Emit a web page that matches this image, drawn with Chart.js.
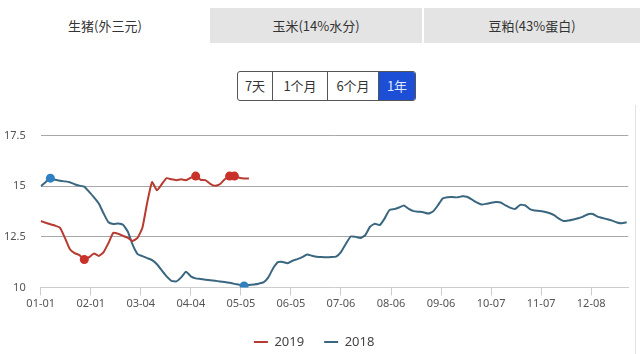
<!DOCTYPE html>
<html>
<head>
<meta charset="utf-8">
<script src="https://cdn.jsdelivr.net/npm/chart.js@4/dist/chart.umd.min.js"></script>
<style>
html,body{margin:0;padding:0;width:640px;height:354px;overflow:hidden;background:#fff;font-family:"Noto Sans CJK SC","Noto Sans",sans-serif;}
.tab{position:absolute;top:8px;height:35px;line-height:35px;text-align:center;font-size:13px;color:#333;}
.btns{position:absolute;left:237px;top:71px;width:179px;height:30px;box-sizing:border-box;display:flex;border:1px solid #555;border-radius:3px;overflow:hidden;}
.btn{height:28px;line-height:28px;text-align:center;font-size:13px;color:#333;box-sizing:border-box;border-right:1px solid #555;}
.btn.on{background:#1d4fd6;color:#dfe8ff;border-right:none;}
#wrap{position:absolute;left:0;top:114px;width:640px;height:246px;}
.edge{position:absolute;left:635px;top:105px;width:1px;height:249px;background:#e2e2e2;}
</style>
</head>
<body>
<div class="tab" style="left:0;width:210px;background:#fff;">生猪(外三元)</div>
<div class="tab" style="left:210px;width:212px;background:#e4e4e4;">玉米(14%水分)</div>
<div class="tab" style="left:424px;width:216px;background:#e4e4e4;">豆粕(43%蛋白)</div>
<div class="btns">
  <div class="btn" style="width:35px;">7天</div>
  <div class="btn" style="width:55px;">1个月</div>
  <div class="btn" style="width:51px;">6个月</div>
  <div class="btn on" style="flex:1;">1年</div>
</div>
<div class="edge"></div>
<div id="wrap"><canvas id="c" width="640" height="246"></canvas></div>
<script>
// x position of each value = day of year (index * STEP)
const STEP = 3;
const TICK_DAYS = [0, 31, 62, 93, 124, 155, 186, 217, 248, 279, 310, 341];
const TICK_LABELS = ['01-01','02-01','03-04','04-04','05-05','06-05','07-06','08-06','09-06','10-07','11-07','12-08'];
const Y_TICKS = [10, 12.5, 15, 17.5];

const price2019 = [
  13.28, 13.2, 13.12, 13.05, 12.95, 12.45, 11.9, 11.7, 11.6, 11.38,
  11.5, 11.68, 11.56, 11.75, 12.2, 12.7, 12.65, 12.55, 12.45, 12.3,
  12.45, 12.95, 14.2, 15.2, 14.8, 15.1, 15.4, 15.34, 15.3, 15.34,
  15.3, 15.42, 15.5, 15.32, 15.3, 15.12, 15.02, 15.1, 15.35, 15.5,
  15.5, 15.42, 15.38, 15.38
];

const price2018 = [
  15.0, 15.2, 15.4, 15.32, 15.27, 15.24, 15.2, 15.1, 15.03, 14.98,
  14.72, 14.45, 14.15, 13.65, 13.22, 13.14, 13.16, 13.1, 12.75, 12.1,
  11.65, 11.55, 11.45, 11.35, 11.15, 10.85, 10.55, 10.33, 10.3, 10.5,
  10.78, 10.55, 10.45, 10.42, 10.38, 10.36, 10.33, 10.3, 10.27, 10.23,
  10.18, 10.14, 10.08, 10.12, 10.15, 10.19, 10.25, 10.5, 10.95, 11.25,
  11.26, 11.2, 11.32, 11.4, 11.5, 11.63, 11.57, 11.52, 11.5, 11.49,
  11.5, 11.53, 11.75, 12.15, 12.52, 12.5, 12.44, 12.58, 13.0, 13.15,
  13.08, 13.4, 13.82, 13.87, 13.95, 14.05, 13.88, 13.77, 13.74, 13.72,
  13.65, 13.75, 14.05, 14.4, 14.46, 14.47, 14.45, 14.5, 14.48, 14.35,
  14.2, 14.1, 14.13, 14.18, 14.22, 14.2, 14.05, 13.93, 13.88, 14.08,
  14.06, 13.87, 13.8, 13.78, 13.74, 13.68, 13.57, 13.4, 13.28, 13.31,
  13.36, 13.42, 13.5, 13.62, 13.63, 13.5, 13.43, 13.37, 13.3, 13.21,
  13.17, 13.22
];

function toPoints(arr){ return arr.map((v, i) => ({x: i * STEP, y: v})); }
function extremeRadius(arr){
  const mx = Math.max(...arr), mn = Math.min(...arr);
  return ctx => (ctx.raw && (ctx.raw.y === mx || ctx.raw.y === mn)) ? 4.5 : 0;
}

Chart.defaults.font.family = '"Noto Sans", "Open Sans", sans-serif';
Chart.defaults.color = '#555';

new Chart(document.getElementById('c'), {
  type: 'line',
  data: {
    datasets: [
      {
        label: '2019',
        data: toPoints(price2019),
        borderColor: '#b73b30',
        backgroundColor: '#c8322a',
        pointBackgroundColor: '#c8322a',
        pointBorderWidth: 0,
        pointRadius: extremeRadius(price2019),
        borderWidth: 2,
        tension: 0.15,
        fill: false
      },
      {
        label: '2018',
        data: toPoints(price2018),
        borderColor: '#3a6680',
        backgroundColor: '#2f7fc1',
        pointBackgroundColor: '#2f7fc1',
        pointBorderWidth: 0,
        pointRadius: extremeRadius(price2018),
        borderWidth: 2,
        tension: 0.15,
        fill: false
      }
    ]
  },
  options: {
    responsive: false,
    animation: false,
    devicePixelRatio: 1,
    layout: { padding: { top: 9, right: 11.7, left: 0, bottom: 1.5 } },
    plugins: {
      tooltip: { enabled: false },
      legend: {
        position: 'bottom',
        labels: {
          boxWidth: 14,
          boxHeight: 2,
          padding: 20,
          color: '#444',
          font: { size: 13 },
          generateLabels: chart => chart.data.datasets.map((ds, i) => ({
            text: ds.label,
            fillStyle: ds.borderColor,
            strokeStyle: ds.borderColor,
            lineWidth: 0,
            datasetIndex: i,
            fontColor: '#444'
          }))
        }
      }
    },
    scales: {
      x: {
        type: 'linear',
        min: 0,
        max: 364,
        afterBuildTicks: axis => { axis.ticks = TICK_DAYS.map(v => ({value: v})); },
        afterFit: s => { s.height = 28; },
        ticks: {
          autoSkip: false,
          maxRotation: 0,
          padding: 2,
          color: '#555',
          font: { size: 11 },
          callback: v => TICK_LABELS[TICK_DAYS.indexOf(v)]
        },
        grid: { drawOnChartArea: false, drawTicks: true, tickLength: 8, color: '#cccccc' },
        border: { color: '#cccccc', width: 1 }
      },
      y: {
        min: 10,
        max: 17.5,
        afterBuildTicks: axis => { axis.ticks = Y_TICKS.map(v => ({value: v})); },
        afterFit: s => { s.width = 40.7; },
        ticks: {
          padding: 15,
          color: '#555',
          font: { size: 11 },
          callback: v => String(v)
        },
        grid: {
          drawTicks: false,
          color: ctx => (ctx.tick && ctx.tick.value === 10) ? 'rgba(0,0,0,0)' : '#a8a8a8'
        },
        border: { display: false }
      }
    }
  }
});
</script>
</body>
</html>
